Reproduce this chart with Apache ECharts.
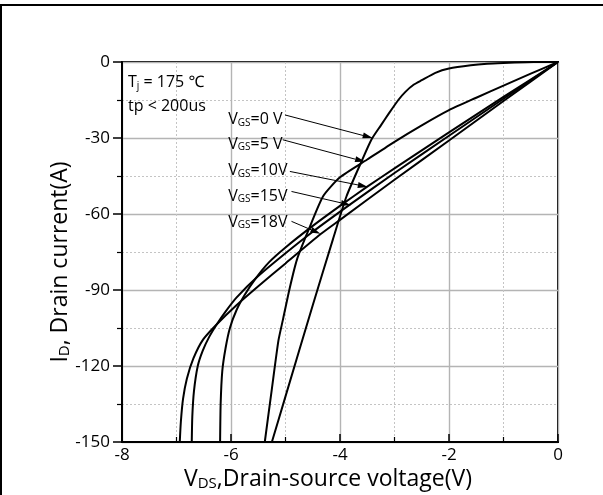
<!DOCTYPE html>
<html><head><meta charset="utf-8">
<script src="https://cdn.jsdelivr.net/npm/echarts@6/dist/echarts.min.js"></script>
<style>html,body{margin:0;padding:0;background:#fff}#c{width:603px;height:495px}</style>
</head><body><div id="c"></div>
<script>
// ---- data (V_DS in V, I_D in A) ----
const seriesNames = ['VGS=0 V', 'VGS=5 V', 'VGS=10V', 'VGS=15V', 'VGS=18V'];
const vgs0 = [[0,0],[-0.3,0],[-0.6,-0.1],[-1,-0.4],[-1.3,-0.7],[-1.6,-1.3],[-2,-2.6],[-2.25,-4.3],[-2.5,-7.2],[-2.65,-9],[-2.8,-11.8],[-2.93,-15],[-3.1,-20.2],[-3.25,-25],[-3.42,-30.5],[-3.6,-39],[-3.88,-53],[-4.13,-70],[-4.5,-96],[-5.0,-132],[-5.25,-150]];
const vgs5 = [[0,0],[-0.5,-4.6],[-1,-9.3],[-1.5,-14.1],[-2,-19],[-2.5,-25],[-3,-31.5],[-3.5,-38.5],[-4,-45.5],[-4.31,-53],[-4.59,-67],[-4.79,-78],[-4.92,-89],[-5.05,-102],[-5.13,-110],[-5.25,-129],[-5.38,-150]];
const vgs10 = [[0,0],[-1,-13.8],[-2,-27.8],[-3,-42],[-3.5,-49.2],[-4,-56.8],[-4.5,-64.7],[-5,-73.2],[-5.3,-79],[-5.55,-85.5],[-5.75,-92],[-5.9,-98],[-6.02,-105],[-6.1,-113],[-6.16,-122],[-6.19,-135],[-6.2,-150]];
const vgs15 = [[0,0],[-1,-14.5],[-2,-29.1],[-3,-43.8],[-3.8,-56],[-4.5,-67],[-5,-75.5],[-5.5,-84.5],[-5.9,-93],[-6.1,-98.5],[-6.26,-103.5],[-6.4,-108.5],[-6.52,-114],[-6.61,-120],[-6.68,-130],[-6.71,-140],[-6.72,-150]];
const vgs18 = [[0,0],[-1,-15.4],[-2,-31],[-3,-46.5],[-4,-62.3],[-4.36,-68],[-5,-79.5],[-5.5,-88.5],[-5.9,-96],[-6.26,-103.5],[-6.51,-109.5],[-6.69,-117],[-6.81,-125],[-6.88,-133],[-6.92,-142],[-6.94,-150]];
const xRange = [-8, 0, 2];      // min, max, interval
const yRange = [-150, 0, 30];
const labelTexts = ['{n|V}{s|GS}{n|=0 V}', '{n|V}{s|GS}{n|=5 V}', '{n|V}{s|GS}{n|=10V}', '{n|V}{s|GS}{n|=15V}', '{n|V}{s|GS}{n|=18V}'];
const noteTexts = ['{n|T}{s|j}{n| = 175 ℃}', '{n|tp < 200us}'];
const xTitle = '{n|V}{s|DS}{n|,Drain-source voltage(V)}';
const yTitle = '{n|I}{s|D}{n|, Drain current(A)}';

// ---- annotation placement (data coordinates) ----
const labelAnchors = [[-6.05,-21.0],[-6.05,-30.8],[-6.05,-41.2],[-6.05,-51.1],[-6.05,-61.5]];
const arrowFrom = [[-5.01,-20.9],[-5.05,-30.7],[-4.92,-43.2],[-4.89,-51.1],[-4.89,-62.9]];
const arrowTo = [[-3.40,-30],[-3.54,-39.4],[-3.49,-49.3],[-3.80,-56.5],[-4.36,-67.8]];
const noteAnchors = [[-7.89,-6.4],[-7.89,-15.7]];

const FONT = '"Open Sans", "Noto Sans", "Noto Sans CJK SC", sans-serif';
const richSmall = {
  n: {fontSize: 16, fontFamily: FONT, color: '#000', lineHeight: 25, verticalAlign: 'bottom'},
  s: {fontSize: 10, fontFamily: FONT, color: '#000', lineHeight: 4, verticalAlign: 'bottom'}
};
const richBig = {
  n: {fontSize: 23, fontFamily: FONT, color: '#000', lineHeight: 28, verticalAlign: 'bottom'},
  s: {fontSize: 15, fontFamily: FONT, color: '#000', lineHeight: 10, verticalAlign: 'bottom'}
};

const chart = echarts.init(document.getElementById('c'), null, {renderer: 'canvas'});
const datasets = [vgs0, vgs5, vgs10, vgs15, vgs18];

chart.setOption({
  animation: false,
  backgroundColor: '#fff',
  grid: {left: 122, right: 45, top: 62, bottom: 53, show: true, borderColor: '#000', borderWidth: 2, outerBoundsMode: 'none', containLabel: false},
  xAxis: {
    type: 'value', min: xRange[0], max: xRange[1], interval: xRange[2],
    name: xTitle, nameLocation: 'middle', nameGap: 21, nameMoveOverlap: false,
    nameTextStyle: {rich: richBig, padding: [0, 24, 0, 0]},
    axisLine: {show: true, onZero: false, lineStyle: {color: '#000', width: 2}},
    axisTick: {show: true, inside: true, length: 8, lineStyle: {color: '#000', width: 1.5}},
    minorTick: {show: true, splitNumber: 2, length: 5, lineStyle: {color: '#000', width: 1.2}},
    axisLabel: {fontSize: 17, fontFamily: FONT, color: '#000', margin: 5},
    splitLine: {show: true, lineStyle: {color: '#b4b4b4', width: 1.4}},
    minorSplitLine: {show: true, lineStyle: {color: '#c4c4c4', width: 1, type: [2, 2]}}
  },
  yAxis: {
    type: 'value', min: yRange[0], max: yRange[1], interval: yRange[2],
    axisLine: {show: true, onZero: false, lineStyle: {color: '#000', width: 2}},
    axisTick: {show: true, inside: false, length: 9, lineStyle: {color: '#000', width: 1.5}},
    minorTick: {show: true, splitNumber: 2, length: 5, lineStyle: {color: '#000', width: 1.2}},
    axisLabel: {fontSize: 17, fontFamily: FONT, color: '#000', margin: 12},
    splitLine: {show: true, lineStyle: {color: '#b4b4b4', width: 1.4}},
    minorSplitLine: {show: true, lineStyle: {color: '#c4c4c4', width: 1, type: [2, 2]}}
  },
  series: datasets.map((d, i) => ({
    name: seriesNames[i], type: 'line', data: d, symbol: 'none', showSymbol: false,
    smooth: 0.2, lineStyle: {color: '#000', width: 2}, z: 3
  }))
});

const px = p => chart.convertToPixel({gridIndex: 0}, p);
const g = [];
// outer frame (top and left edge)
g.push({type: 'line', shape: {x1: 0, y1: 5, x2: 603, y2: 5}, style: {stroke: '#000', lineWidth: 2}, z: 10});
g.push({type: 'line', shape: {x1: 1, y1: 5, x2: 1, y2: 495}, style: {stroke: '#000', lineWidth: 2}, z: 10});
// y axis title (rotated)
g.push({type: 'text', x: 58, y: 262, rotation: Math.PI / 2, z: 20, style: {text: yTitle, rich: richBig, align: 'center', verticalAlign: 'middle', fill: '#000'}});
arrowFrom.forEach((f, i) => {
  const s = px(f), e = px(arrowTo[i]);
  const dx = e[0] - s[0], dy = e[1] - s[1], L = Math.hypot(dx, dy), ux = dx / L, uy = dy / L;
  const hl = 10, hw = 3;
  const bx = e[0] - ux * hl, by = e[1] - uy * hl;
  g.push({type: 'line', shape: {x1: s[0], y1: s[1], x2: bx, y2: by}, style: {stroke: '#000', lineWidth: 1}, z: 20});
  g.push({type: 'polygon', shape: {points: [[e[0], e[1]], [bx - uy * hw, by + ux * hw], [bx + uy * hw, by - ux * hw]]}, style: {fill: '#000'}, z: 20});
  const a = px(labelAnchors[i]);
  g.push({type: 'text', x: a[0], y: a[1], z: 20, style: {text: labelTexts[i], rich: richSmall, align: 'left', verticalAlign: 'middle', fill: '#000'}});
});
noteAnchors.forEach((n, i) => {
  const a = px(n);
  g.push({type: 'text', x: a[0], y: a[1], z: 20, style: {text: noteTexts[i], rich: richSmall, align: 'left', verticalAlign: 'middle', fill: '#000'}});
});
chart.setOption({graphic: g});
</script>
</body></html>
